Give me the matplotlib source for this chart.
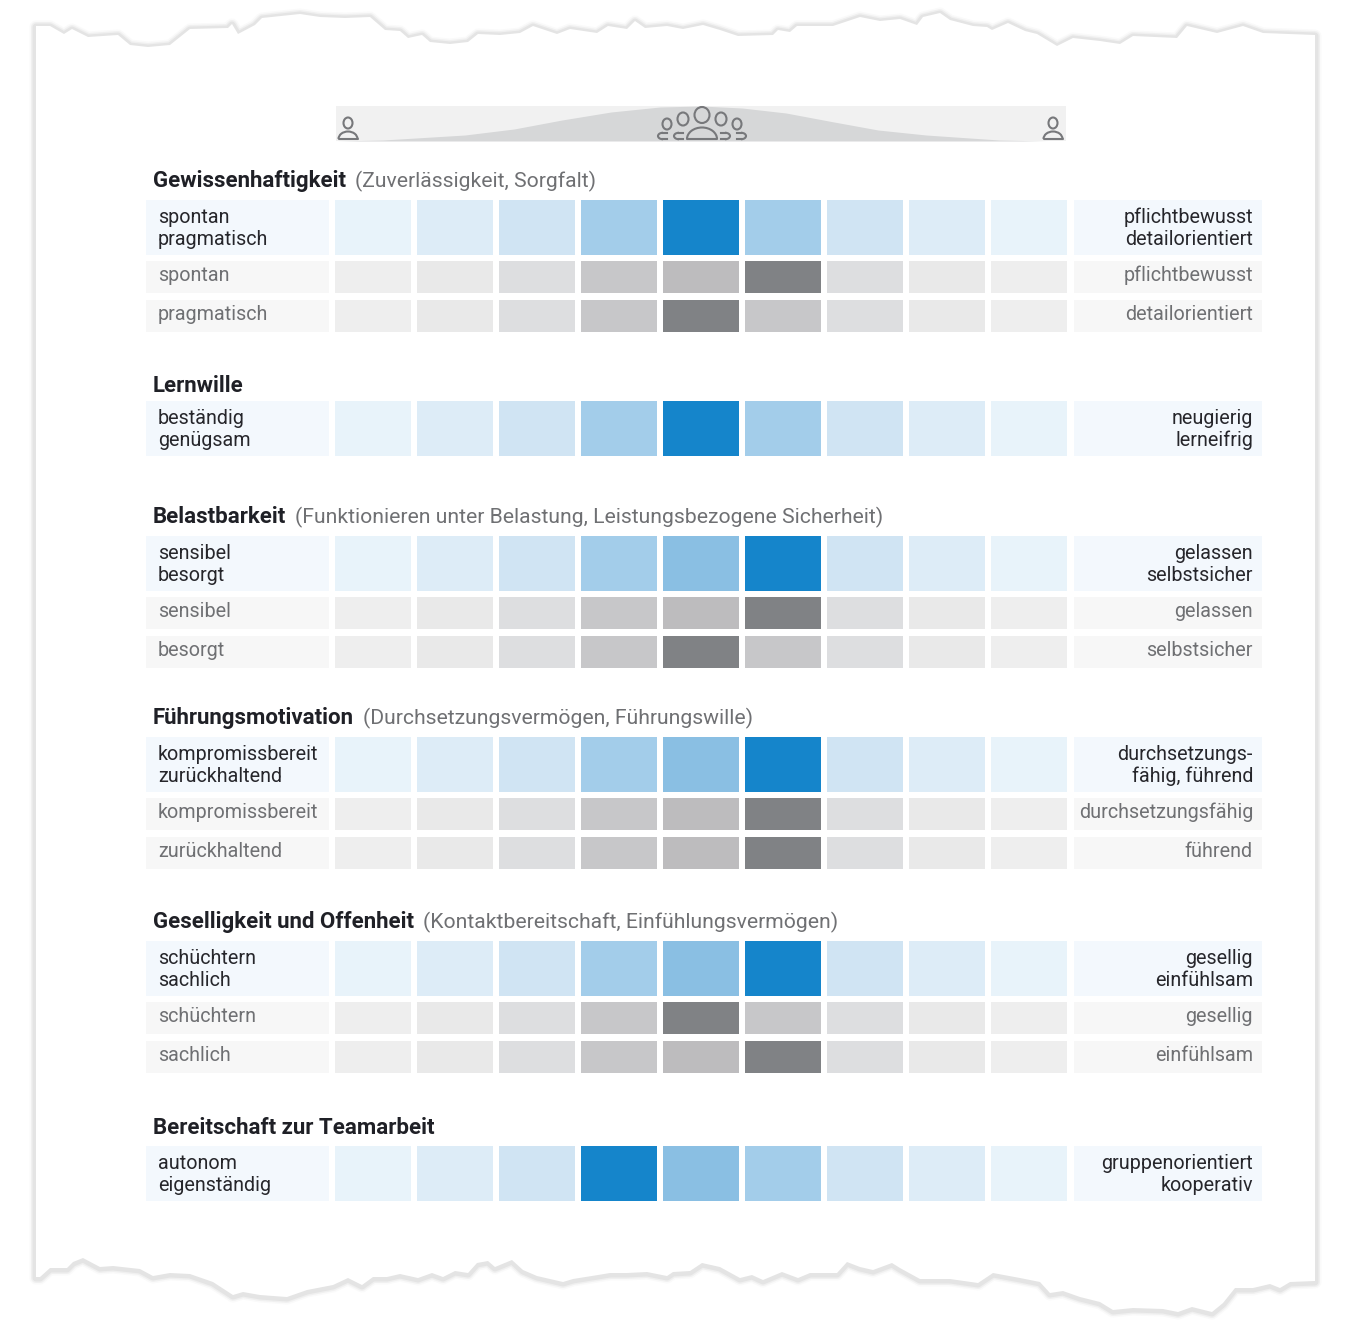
import matplotlib
matplotlib.use("Agg")
import matplotlib.pyplot as plt
from matplotlib.patches import Ellipse, Arc, Polygon

plt.rcParams['font.family'] = ['Roboto', 'DejaVu Sans']

# Texte
titel = ["Gewissenhaftigkeit", "Lernwille", "Belastbarkeit", "Führungsmotivation",
         "Geselligkeit und Offenheit", "Bereitschaft zur Teamarbeit"]
untertitel = ["(Zuverlässigkeit, Sorgfalt)", "",
              "(Funktionieren unter Belastung, Leistungsbezogene Sicherheit)",
              "(Durchsetzungsvermögen, Führungswille)",
              "(Kontaktbereitschaft, Einfühlungsvermögen)", ""]

links_blau = [["spontan", "pragmatisch"], ["beständig", "genügsam"], ["sensibel", "besorgt"],
              ["kompromissbereit", "zurückhaltend"], ["schüchtern", "sachlich"], ["autonom", "eigenständig"]]
rechts_blau = [["pflichtbewusst", "detailorientiert"], ["neugierig", "lerneifrig"], ["gelassen", "selbstsicher"],
               ["durchsetzungs-", "fähig, führend"], ["gesellig", "einfühlsam"], ["gruppenorientiert", "kooperativ"]]

# Farbstufe je Zelle (0 = hell, 5 = Maximum)
stufen_blau = [
    [0, 1, 2, 3, 5, 3, 2, 1, 0],
    [0, 1, 2, 3, 5, 3, 2, 1, 0],
    [0, 1, 2, 3, 4, 5, 2, 1, 0],
    [0, 1, 2, 3, 4, 5, 2, 1, 0],
    [0, 1, 2, 3, 4, 5, 2, 1, 0],
    [0, 1, 2, 5, 4, 3, 2, 1, 0],
]

# Graue Unterzeilen: links, rechts, Stufen
grau_links = ["spontan", "pragmatisch", "sensibel", "besorgt",
              "kompromissbereit", "zurückhaltend", "schüchtern", "sachlich"]
grau_rechts = ["pflichtbewusst", "detailorientiert", "gelassen", "selbstsicher",
               "durchsetzungsfähig", "führend", "gesellig", "einfühlsam"]
stufen_grau = [
    [0, 1, 2, 3, 4, 5, 2, 1, 0],
    [0, 1, 2, 3, 5, 3, 2, 1, 0],
    [0, 1, 2, 3, 4, 5, 2, 1, 0],
    [0, 1, 2, 3, 5, 3, 2, 1, 0],
    [0, 1, 2, 3, 4, 5, 2, 1, 0],
    [0, 1, 2, 3, 4, 5, 2, 1, 0],
    [0, 1, 2, 3, 5, 3, 2, 1, 0],
    [0, 1, 2, 3, 4, 5, 2, 1, 0],
]

# Glockenkurve oben
kurve_x = [336, 383, 465, 514, 562, 611, 660, 701, 742, 786, 834, 878, 926, 999, 1047, 1066]
kurve_y = [141, 140, 135, 129, 120, 112, 107, 106, 108, 113, 122, 130, 135, 140, 141, 141]

# Papierkante (Riss)
kante_oben = [(36, 26), (50, 26), (64, 34), (72, 29), (88, 37), (118, 35), (130, 45), (148, 47), (170, 45), (190, 29),
              (228, 28), (232, 24), (238, 34), (255, 25), (262, 18), (300, 14), (320, 17), (345, 18), (370, 17), (385, 30),
              (400, 31), (408, 38), (422, 35), (430, 42), (450, 44), (468, 42), (478, 34), (500, 35), (520, 33), (533, 26),
              (557, 34), (570, 29), (597, 33), (608, 26), (627, 29), (635, 21), (645, 28), (667, 26), (683, 29), (703, 25),
              (720, 30), (738, 36), (773, 35), (778, 30), (790, 32), (797, 26), (833, 26), (860, 17), (880, 21), (900, 19),
              (917, 25), (923, 17), (940, 13), (950, 20), (973, 26), (987, 27), (992, 30), (1008, 23), (1025, 31), (1037, 34),
              (1057, 46), (1073, 38), (1100, 41), (1120, 44), (1133, 36), (1177, 38), (1187, 26), (1217, 33), (1243, 26),
              (1263, 33), (1315, 35)]
kante_unten = [(1315, 1281), (1290, 1282), (1280, 1288), (1270, 1284), (1253, 1288), (1235, 1288), (1223, 1303), (1212, 1312),
               (1192, 1307), (1178, 1312), (1163, 1309), (1133, 1308), (1113, 1310), (1100, 1302), (1080, 1297), (1063, 1291),
               (1050, 1293), (1040, 1282), (1020, 1278), (993, 1273), (978, 1283), (950, 1279), (920, 1279), (900, 1268),
               (892, 1263), (873, 1270), (860, 1267), (847, 1262), (837, 1273), (810, 1273), (798, 1278), (782, 1272), (763, 1280),
               (752, 1275), (740, 1278), (720, 1267), (702, 1263), (690, 1271), (673, 1272), (667, 1276), (647, 1272), (627, 1273),
               (610, 1273), (598, 1275), (573, 1279), (563, 1282), (537, 1276), (523, 1270), (512, 1260), (495, 1267), (488, 1261),
               (477, 1263), (468, 1273), (455, 1271), (443, 1277), (432, 1273), (418, 1278), (400, 1274), (387, 1277), (373, 1277),
               (362, 1285), (348, 1278), (333, 1285), (307, 1290), (287, 1297), (260, 1295), (243, 1292), (233, 1295), (213, 1282),
               (190, 1274), (170, 1273), (153, 1276), (140, 1269), (113, 1266), (100, 1267), (83, 1258), (73, 1262), (67, 1268),
               (50, 1268), (40, 1277), (36, 1277)]

# Farben
BLAU = ["#e8f3fa", "#ddecf7", "#d0e4f3", "#a3cdea", "#8abfe3", "#1585cb"]
GRAU = ["#eeeeee", "#e9e9e9", "#dddee0", "#c7c7c9", "#bdbcbe", "#808285"]
TEXT_DUNKEL = "#26262b"
TEXT_GRAU = "#6f7073"
ICON = "#77787b"

# Layout in Pixeln
titel_y = [187, 392, 523, 724, 928, 1134]
blau_y = [200, 401, 536, 737, 941, 1146]
grau_y = [261, 300, 597, 636, 798, 837, 1002, 1041]
BLAU_H, GRAU_H = 55, 32
SPALTEN = [335 + 82 * i for i in range(9)]
ZELLE_B = 76
LABEL_L = (146, 183)
LABEL_R = (1074, 188)
FS = 14.2

fig = plt.figure(figsize=(13.66, 13.31), dpi=100)
ax = fig.add_axes([0, 0, 1, 1])
ax.set_xlim(0, 1366)
ax.set_ylim(1331, 0)
ax.axis("off")

# Papier mit Schatten
papier = kante_oben + kante_unten
for lw, a, dy in [(13, 0.12, 1), (10, 0.25, 1), (7, 0.45, 1)]:
    ax.add_patch(Polygon([(x, y + dy) for x, y in papier], closed=True, fill=False,
                         ec="#d6d6d6", lw=lw * 0.72, alpha=a, joinstyle="round"))
ax.add_patch(Polygon(papier, closed=True, fc="white", ec="none"))

# Kopfzeile mit Glocke
ax.bar(336, 35, width=730, bottom=106, align="edge", color="#f1f1f1")
ax.fill_between(kurve_x, kurve_y, 141, color="#d6d7d8", lw=0)


def ring(x, y, rx, ry):
    ax.add_patch(Ellipse((x, y), rx * 2, ry * 2, fill=False, ec=ICON, lw=1.5))


def koerper(x, y, w, h):
    ax.add_patch(Arc((x, y), w, h * 2, theta1=180, theta2=360, ec=ICON, lw=1.5))
    ax.plot([x - w / 2, x + w / 2], [y, y], color=ICON, lw=1.5, solid_capstyle="round")


def seite(x, richtung):
    # offener Körper der Nebenfiguren
    theta = (90, 270) if richtung < 0 else (270, 90)
    ax.add_patch(Arc((x, 136), 10, 6.5, theta1=theta[0], theta2=theta[1], ec=ICON, lw=1.5))
    ax.plot([x, x - richtung * 4], [132.8, 132.8], color=ICON, lw=1.5)
    ax.plot([x, x - richtung * 4], [139.2, 139.2], color=ICON, lw=1.5)


for px in [348, 1053]:
    ring(px, 123, 4.5, 5.5)
    koerper(px, 139, 19, 7.5)

ring(702, 115, 7.5, 8)
koerper(702, 139, 30, 11.5)
for dx, rx, ry, hy in [(19, 5.5, 6.5, 119), (35, 4.5, 5.5, 124)]:
    ring(702 - dx, hy, rx, ry)
    ring(702 + dx, hy, rx, ry)
seite(702 - 23, -1)
seite(702 + 23, 1)
seite(702 - 39, -1)
seite(702 + 39, 1)

# Titel
fig.canvas.draw()
renderer = fig.canvas.get_renderer()
for t, u, y in zip(titel, untertitel, titel_y):
    tt = ax.text(153, y, t, fontsize=16, fontweight="bold", color="#1f2026", va="baseline")
    if u:
        ende = tt.get_window_extent(renderer).x1
        ax.text(ende + 9, y, u, fontsize=15.2, color=TEXT_GRAU, va="baseline")


def zeile(y, h, stufen, farben, label_bg):
    ax.bar(LABEL_L[0], h, width=LABEL_L[1], bottom=y, align="edge", color=label_bg)
    ax.bar(LABEL_R[0], h, width=LABEL_R[1], bottom=y, align="edge", color=label_bg)
    ax.bar(SPALTEN, [h] * 9, width=ZELLE_B, bottom=y, align="edge", color=[farben[s] for s in stufen])


# Blaue Hauptzeilen
for y, st, li, re in zip(blau_y, stufen_blau, links_blau, rechts_blau):
    zeile(y, BLAU_H, st, BLAU, "#f3f8fd")
    for k in range(2):
        by = y + 23 + k * 22
        ax.text(158, by, li[k], fontsize=FS, color=TEXT_DUNKEL, va="baseline")
        ax.text(1253, by, re[k], fontsize=FS, color=TEXT_DUNKEL, va="baseline", ha="right")

# Graue Unterzeilen
for y, st, li, re in zip(grau_y, stufen_grau, grau_links, grau_rechts):
    zeile(y, GRAU_H, st, GRAU, "#f7f7f7")
    ax.text(158, y + 20, li, fontsize=FS, color=TEXT_GRAU, va="baseline")
    ax.text(1253, y + 20, re, fontsize=FS, color=TEXT_GRAU, va="baseline", ha="right")

fig.savefig("out.png", dpi=100, facecolor="white")
